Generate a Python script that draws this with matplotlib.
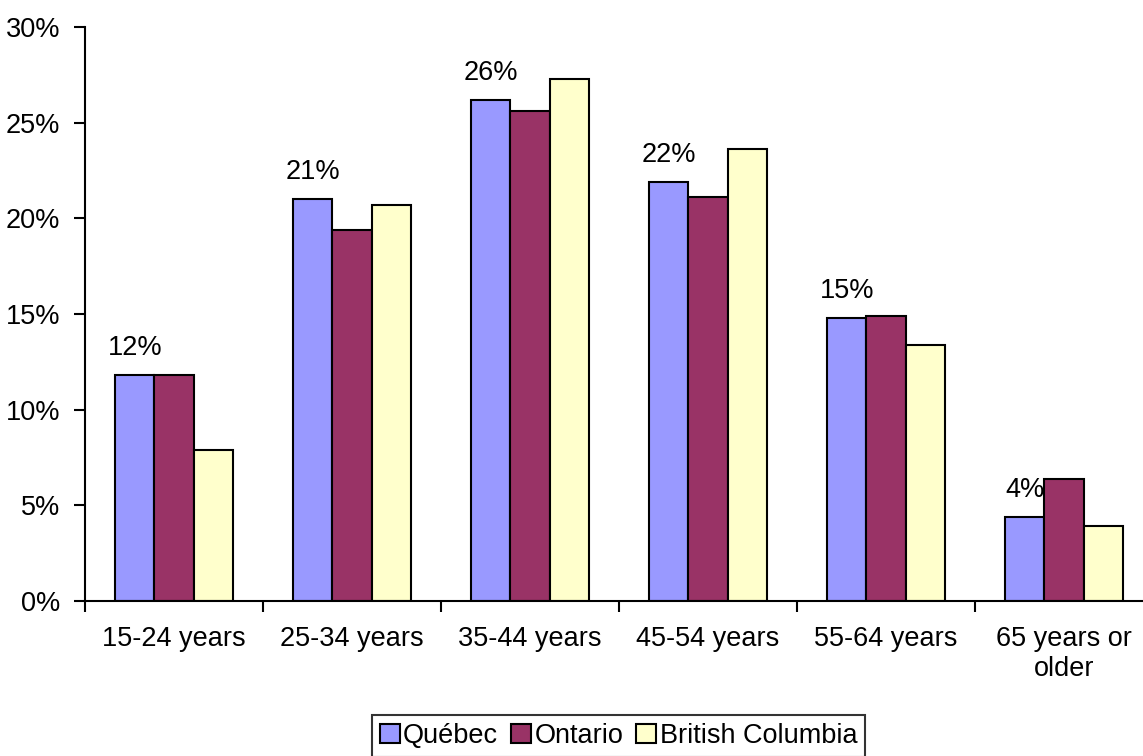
import numpy as np
import matplotlib.pyplot as plt
from matplotlib.ticker import FixedLocator, NullFormatter

plt.rcParams['font.family'] = ['Liberation Sans', 'DejaVu Sans']

# ------------------------------------------------------------------
# DATI
# ------------------------------------------------------------------
categories = ["15-24 years", "25-34 years", "35-44 years", "45-54 years",
              "55-64 years", "65 years or\nolder"]
quebec  = [11.8, 21.0, 26.2, 21.9, 14.8, 4.4]
ontario = [11.8, 19.4, 25.6, 21.1, 14.9, 6.4]
bc      = [7.9, 20.7, 27.3, 23.6, 13.4, 3.9]
series_names = ["Québec", "Ontario", "British Columbia"]
colors = ["#9999FF", "#993366", "#FFFFCC"]

FS = 19.5

# ------------------------------------------------------------------
# GRAFICO
# ------------------------------------------------------------------
fig = plt.figure(figsize=(11.43, 7.56), dpi=100)
ax = fig.add_axes([85 / 1143, 1 - 601 / 756, (1153 - 85) / 1143, (601 - 27) / 756])

x = np.arange(len(categories))
w = 0.22
handles = []
for i, (vals, col, name) in enumerate(zip([quebec, ontario, bc], colors, series_names)):
    b = ax.bar(x + (i - 1) * w, vals, width=w, color=col, edgecolor="black",
               linewidth=1.5, label=name)
    handles.append(b)

# etichette solo sulle barre del Québec
for xi, v in zip(x - w, quebec):
    ax.annotate(f"{v:.0f}%", (xi, v), xytext=(0, 10), textcoords="offset points",
                ha="center", va="bottom", fontsize=FS)

ax.set_xlim(-0.5, len(categories) - 0.5)
ax.set_ylim(0, 30)
ax.set_yticks(np.arange(0, 31, 5))
ax.set_yticklabels([f"{t}%" for t in range(0, 31, 5)])

# tacche tra le categorie, etichette al centro
ax.xaxis.set_major_locator(FixedLocator(np.arange(-0.5, len(categories), 1.0)))
ax.xaxis.set_major_formatter(NullFormatter())
ax.xaxis.set_minor_locator(FixedLocator(x))
ax.set_xticklabels(categories, minor=True, linespacing=1.2)
ax.tick_params(axis="x", which="minor", length=0, pad=18, labelsize=FS)
ax.tick_params(axis="x", which="major", length=8, width=1.5, direction="out")
ax.tick_params(axis="y", length=8, width=1.5, direction="out", labelsize=FS, pad=10)

for s in ["top", "right"]:
    ax.spines[s].set_visible(False)
for s in ["left", "bottom"]:
    ax.spines[s].set_linewidth(1.5)

leg = fig.legend(handles=handles, loc="center", bbox_to_anchor=(618.5 / 1143, 1 - 736 / 756),
                 ncol=3, fontsize=FS, frameon=True, fancybox=False, edgecolor="black",
                 handlelength=0.74, handleheight=0.65, handletextpad=0.12, columnspacing=0.48,
                 borderpad=0.3, borderaxespad=0)
leg.get_frame().set_linewidth(1.5)

fig.savefig("out.png", dpi=100)
